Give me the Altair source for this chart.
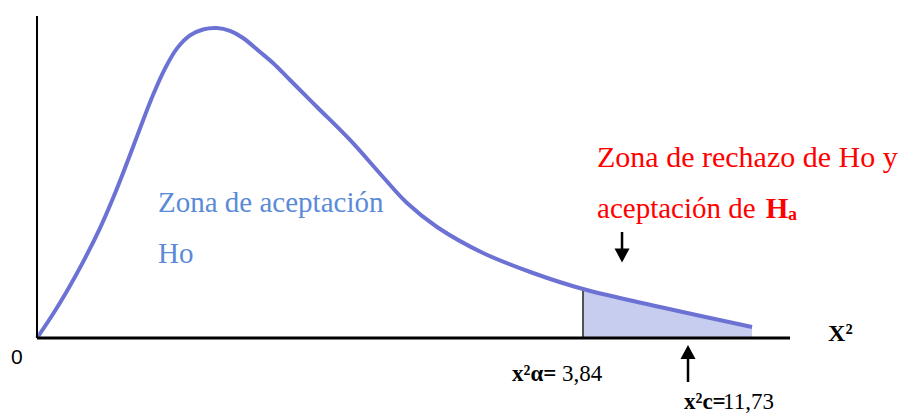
import altair as alt
import pandas as pd

# ---- data (schematic units: axis runs 0..10 in both directions) ----
curve_x = [0.0, 0.2125, 0.3984, 0.6109, 0.8367, 1.0093, 1.1421, 1.2749, 1.4077,
           1.5405, 1.6999, 1.8592, 2.0319, 2.2045, 2.3904, 2.5631, 2.7357,
           2.9615, 3.1341, 3.3599, 3.7185, 4.1567, 4.5950, 4.9137, 5.3121,
           5.9230, 6.5870, 7.2510, 8.2736, 9.4954]
curve_y = [0.0, 0.7453, 1.4627, 2.3571, 3.4130, 4.3416, 5.1180, 5.9317, 6.7547,
           7.5466, 8.3665, 8.9938, 9.3975, 9.5807, 9.6242, 9.5342, 9.3168,
           8.8820, 8.5404, 8.0124, 7.1739, 6.1491, 5.0000, 4.1925, 3.4472,
           2.6398, 2.0186, 1.5217, 0.9627, 0.3416]
crit_x = 7.2510         # x²α = 3,84
calc_x = 8.645          # x²c = 11,73
reject_arrow_x = 7.769
axis_len = 10.0

X_DOM = [-0.385, 11.500]
Y_DOM = [-2.360, 10.248]
W, H = 895, 406

xs = alt.Scale(domain=X_DOM, nice=False, zero=False)
ys = alt.Scale(domain=Y_DOM, nice=False, zero=False)


def X(f="x"):
    return alt.X(f"{f}:Q", scale=xs, axis=None)


def Y(f="y"):
    return alt.Y(f"{f}:Q", scale=ys, axis=None)


curve = pd.DataFrame({"x": curve_x, "y": curve_y})
tail = curve[curve["x"] >= crit_x]
crit_y = float(curve.loc[curve["x"] == crit_x, "y"].iloc[0])

area = alt.Chart(tail).mark_area(color="#c6cdef", interpolate="catmull-rom").encode(
    x=X(), y=Y())

line = alt.Chart(curve).mark_line(color="#6c72d4", strokeWidth=4,
                                  interpolate="catmull-rom").encode(x=X(), y=Y())

crit_rule = alt.Chart(pd.DataFrame({"x": [crit_x], "y": [0.0], "y2": [crit_y]})).mark_rule(
    color="#505050", strokeWidth=2).encode(x=X(), y=Y(), y2="y2:Q")

vaxis = alt.Chart(pd.DataFrame({"x": [0.0], "y": [0.0], "y2": [axis_len]})).mark_rule(
    color="black", strokeWidth=2).encode(x=X(), y=Y(), y2="y2:Q")
haxis = alt.Chart(pd.DataFrame({"x": [0.0], "x2": [axis_len], "y": [0.0]})).mark_rule(
    color="black", strokeWidth=3).encode(x=X(), x2="x2:Q", y=Y())

# arrows
shaft_df = pd.DataFrame({"x": [calc_x, reject_arrow_x],
                         "y": [-1.366, 3.292], "y2": [-0.559, 2.671]})
shafts = alt.Chart(shaft_df).mark_rule(color="black", strokeWidth=2.5).encode(
    x=X(), y=Y(), y2="y2:Q")
up_head = alt.Chart(pd.DataFrame({"x": [calc_x], "y": [-0.435]})).mark_point(
    shape="M-1,0.93L1,0.93L0,-0.93Z", size=225, filled=True, color="black",
    opacity=1).encode(x=X(), y=Y())
down_head = alt.Chart(pd.DataFrame({"x": [reject_arrow_x], "y": [2.562]})).mark_point(
    shape="M-1,-0.93L1,-0.93L0,0.93Z", size=225, filled=True, color="black",
    opacity=1).encode(x=X(), y=Y())

SERIF = "Times New Roman, Liberation Serif, Tinos, serif"


def txt(df, **kw):
    base = dict(align="left", baseline="alphabetic", font=SERIF)
    base.update(kw)
    return alt.Chart(pd.DataFrame(df)).mark_text(**base).encode(
        x=X(), y=Y(), text="t:N")


blue_txt = txt({"x": [1.607, 1.607], "y": [3.913, 2.329],
                "t": ["Zona de aceptación", "Ho"]}, fontSize=29, color="#5b8bd8")
red_txt1 = txt({"x": [7.437], "y": [5.311], "t": ["Zona de rechazo de Ho y"]},
               fontSize=30, color="#ff0000")
red_txt2 = txt({"x": [7.437], "y": [3.727], "t": ["aceptación de"]},
               fontSize=29, color="#ff0000")
red_H = txt({"x": [9.676], "y": [3.727], "t": ["H"]}, fontSize=29,
            fontWeight="bold", color="#ff0000")
red_a = txt({"x": [9.973], "y": [3.680], "t": ["a"]}, fontSize=18,
            fontWeight="bold", color="#ff0000")

zero_txt = txt({"x": [-0.266], "y": [-0.807], "t": ["0"]}, align="center",
               font="Liberation Sans, Arial, sans-serif", fontSize=21, color="black")
xaxis_lbl = txt({"x": [10.505], "y": [-0.093], "t": ["X²"]}, fontSize=24,
                fontWeight="bold", color="black")
alpha_b = txt({"x": [6.308], "y": [-1.335], "t": ["x²α="]}, fontSize=23,
              fontWeight="bold", color="black")
alpha_v = txt({"x": [6.972], "y": [-1.335], "t": ["3,84"]}, fontSize=23,
              color="black")
calc_b = txt({"x": [8.592], "y": [-2.205], "t": ["x²c="]}, fontSize=23,
             fontWeight="bold", color="black")
calc_v = txt({"x": [9.110], "y": [-2.205], "t": ["11,73"]}, fontSize=23,
             color="black")

chart = alt.layer(
    area, crit_rule, line, vaxis, haxis, shafts, up_head, down_head,
    blue_txt, red_txt1, red_txt2, red_H, red_a, zero_txt, xaxis_lbl,
    alpha_b, alpha_v, calc_b, calc_v,
).properties(
    width=W, height=H, padding=0,
    autosize=alt.AutoSizeParams(type="none"),
    background="white",
).configure_view(stroke=None)

chart.save("out.html", embed_options={"renderer": "svg", "actions": False})
